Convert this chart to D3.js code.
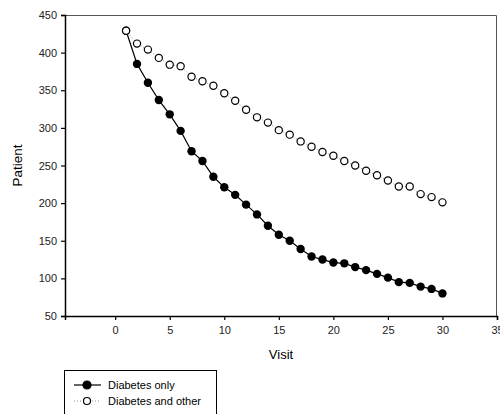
<!DOCTYPE html>
<html>
<head>
<meta charset="utf-8">
<script src="https://cdn.jsdelivr.net/npm/d3@7"></script>
<style>
  body { margin: 0; background: #fff; }
  svg { font-family: 'Liberation Sans', Arial, sans-serif; }
</style>
</head>
<body>
<svg id="chart" width="500" height="414"></svg>
<script>
// data
const visits = d3.range(1, 31)
const diabetesOnly = [429, 385, 360, 337, 318, 296, 269, 256, 235, 221,
  211, 198, 185, 170, 158, 150, 139, 129, 125, 121,
  120, 115, 111, 106, 101, 95, 94, 89, 86, 80]
const diabetesOther = [429, 412, 404, 393, 384, 382, 368, 362, 356, 346,
  336, 324, 314, 307, 297, 291, 282, 275, 268, 263,
  256, 250, 243, 237, 230, 222, 222, 212, 208, 201]
const xTicks = [0, 5, 10, 15, 20, 25, 30, 35]
const yTicks = [50, 100, 150, 200, 250, 300, 350, 400, 450]

const margin = { top: 15, right: 3, bottom: 98, left: 65 }
const width = 500, height = 414
const svg = d3.select('#chart')

const x = d3.scaleLinear()
  .domain([-4.6, 35])
  .range([margin.left, width - margin.right])
const y = d3.scaleLinear()
  .domain([50, 450])
  .range([height - margin.bottom, margin.top])

// frame (top + right)
svg.append('path')
  .attr('d', `M${x(-4.6)},${y(450) + 0.5}H${x(35) - 0.5}V${y(50)}`)
  .attr('fill', 'none')
  .attr('stroke', '#555')
  .attr('stroke-width', 1)

const xAxis = svg.append('g')
  .attr('transform', `translate(0,${y(50)})`)
  .call(d3.axisBottom(x).tickValues(xTicks).tickSize(4).tickPadding(6))
const yAxis = svg.append('g')
  .attr('transform', `translate(${x(-4.6)},0)`)
  .call(d3.axisLeft(y).tickValues(yTicks).tickSize(4).tickPadding(4))

for (const ax of [xAxis, yAxis]) {
  ax.select('.domain').attr('stroke', '#000').attr('stroke-width', 1.5)
  ax.selectAll('.tick line').attr('stroke', '#000').attr('stroke-width', 1.2)
  ax.selectAll('.tick text')
    .attr('font-size', 11)
    .attr('font-family', "'Liberation Sans', Arial, sans-serif")
    .attr('fill', '#222')
}

// axis titles
svg.append('text')
  .attr('x', (x(-4.6) + x(35)) / 2)
  .attr('y', 359)
  .attr('text-anchor', 'middle')
  .attr('font-size', 13)
  .text('Visit')
svg.append('text')
  .attr('transform', `translate(22,${(y(50) + y(450)) / 2}) rotate(-90)`)
  .attr('text-anchor', 'middle')
  .attr('font-size', 13.5)
  .text('Patient')

const lineOnly = d3.line().x((d, i) => x(visits[i])).y(d => y(d))

// Diabetes and other: dotted line, open circles
svg.append('path')
  .datum(diabetesOther)
  .attr('d', lineOnly)
  .attr('fill', 'none')
  .attr('stroke', '#888')
  .attr('stroke-width', 1)
  .attr('stroke-dasharray', '1,2')

// Diabetes only: solid line, filled circles
svg.append('path')
  .datum(diabetesOnly)
  .attr('d', lineOnly)
  .attr('fill', 'none')
  .attr('stroke', '#000')
  .attr('stroke-width', 1.2)

svg.append('g')
  .selectAll('circle')
  .data(diabetesOnly)
  .join('circle')
  .attr('cx', (d, i) => x(visits[i]))
  .attr('cy', d => y(d))
  .attr('r', 4.2)
  .attr('fill', '#000')

svg.append('g')
  .selectAll('circle')
  .data(diabetesOther)
  .join('circle')
  .attr('cx', (d, i) => x(visits[i]))
  .attr('cy', d => y(d))
  .attr('r', 3.6)
  .attr('fill', '#fff')
  .attr('stroke', '#000')
  .attr('stroke-width', 1.2)

// legend
const legend = svg.append('g')
legend.append('rect')
  .attr('x', 64.5).attr('y', 370.5)
  .attr('width', 152).attr('height', 60)
  .attr('fill', '#fff').attr('stroke', '#000').attr('stroke-width', 1)

const items = [
  { label: 'Diabetes only', filled: true },
  { label: 'Diabetes and other', filled: false },
]
items.forEach((it, i) => {
  const cy = 385 + i * 16
  legend.append('line')
    .attr('x1', 74).attr('x2', 101).attr('y1', cy).attr('y2', cy)
    .attr('stroke', it.filled ? '#000' : '#888')
    .attr('stroke-width', it.filled ? 1.2 : 1)
    .attr('stroke-dasharray', it.filled ? null : '1,2')
  legend.append('circle')
    .attr('cx', 87).attr('cy', cy)
    .attr('r', it.filled ? 4 : 3.5)
    .attr('fill', it.filled ? '#000' : '#fff')
    .attr('stroke', '#000').attr('stroke-width', 1.2)
  legend.append('text')
    .attr('x', 108).attr('y', cy + 4)
    .attr('font-size', 11)
    .text(it.label)
})
</script>
</body>
</html>
